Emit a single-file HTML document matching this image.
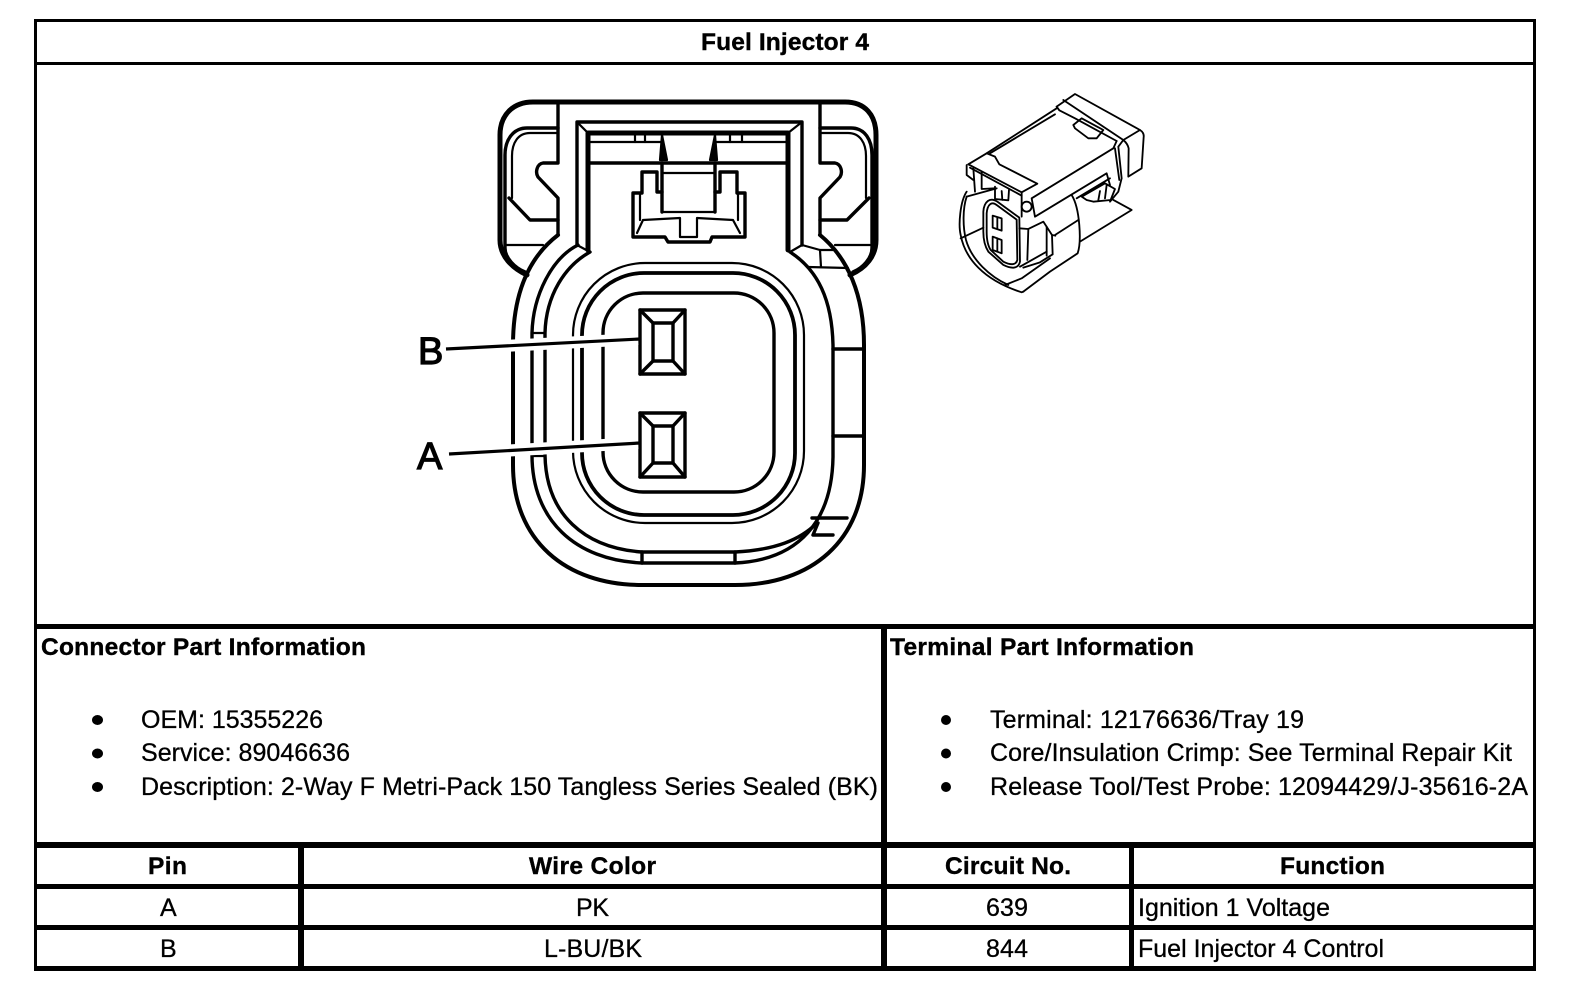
<!DOCTYPE html>
<html><head><meta charset="utf-8"><style>
html,body{margin:0;padding:0;background:#fff}
svg{display:block}
text{font-family:"Liberation Sans",Arial,sans-serif;fill:#000;stroke:#000;stroke-width:.3;font-size:25px}
.b{font-weight:bold;font-size:24.5px;stroke-width:.4}
.k{fill:none;stroke:#000;stroke-width:3.4;stroke-linejoin:round;stroke-linecap:round}
.t{stroke-width:5}
.n{stroke-width:2.2}
.s{fill:none;stroke:#000;stroke-width:5.5;stroke-linejoin:round;stroke-linecap:round}
</style></head><body>
<svg width="1584" height="990" viewBox="0 0 1584 990" xmlns="http://www.w3.org/2000/svg">
<rect width="1584" height="990" fill="#fff"/>
<!-- table frame -->
<g fill="#000">
<rect x="34" y="19" width="1502" height="3"/>
<rect x="34" y="62" width="1502" height="3"/>
<rect x="34" y="624" width="1502" height="5"/>
<rect x="34" y="842" width="1502" height="6"/>
<rect x="34" y="884" width="1502" height="5"/>
<rect x="34" y="925" width="1502" height="5"/>
<rect x="34" y="966" width="1502" height="5"/>
<rect x="34" y="19" width="3" height="952"/>
<rect x="1533" y="19" width="3" height="952"/>
<rect x="298" y="842" width="6" height="129"/>
<rect x="881" y="624" width="6" height="347"/>
<rect x="1129" y="842" width="5" height="129"/>
</g>
<!-- text -->
<text class="b" x="701" y="50" textLength="168" lengthAdjust="spacing">Fuel Injector 4</text>
<text class="b" x="41" y="655" textLength="325" lengthAdjust="spacing">Connector Part Information</text>
<text class="b" x="890" y="655" textLength="304" lengthAdjust="spacing">Terminal Part Information</text>
<text x="141" y="728" textLength="182" lengthAdjust="spacing">OEM: 15355226</text>
<text x="141" y="761" textLength="209" lengthAdjust="spacing">Service: 89046636</text>
<text x="141" y="795" textLength="737" lengthAdjust="spacing">Description: 2-Way F Metri-Pack 150 Tangless Series Sealed (BK)</text>
<text x="990" y="728" textLength="314" lengthAdjust="spacing">Terminal: 12176636/Tray 19</text>
<text x="990" y="761" textLength="522" lengthAdjust="spacing">Core/Insulation Crimp: See Terminal Repair Kit</text>
<text x="990" y="795" textLength="538" lengthAdjust="spacing">Release Tool/Test Probe: 12094429/J-35616-2A</text>
<g fill="#000">
<ellipse cx="97.5" cy="720" rx="5.5" ry="5"/><ellipse cx="97.5" cy="753.5" rx="5.5" ry="5"/><ellipse cx="97.5" cy="787" rx="5.5" ry="5"/>
<ellipse cx="946" cy="720" rx="5" ry="5"/><ellipse cx="946" cy="753.5" rx="5" ry="5"/><ellipse cx="946" cy="787" rx="5" ry="5"/>
</g>
<text class="b" x="148" y="874" textLength="39" lengthAdjust="spacing">Pin</text>
<text class="b" x="529" y="874" textLength="127" lengthAdjust="spacing">Wire Color</text>
<text class="b" x="945" y="874" textLength="126" lengthAdjust="spacing">Circuit No.</text>
<text class="b" x="1280" y="874" textLength="105" lengthAdjust="spacing">Function</text>
<text x="160" y="916" textLength="17" lengthAdjust="spacing">A</text>
<text x="160" y="957" textLength="16" lengthAdjust="spacing">B</text>
<text x="576" y="916" textLength="33" lengthAdjust="spacing">PK</text>
<text x="544" y="957" textLength="98" lengthAdjust="spacing">L-BU/BK</text>
<text x="986" y="916" textLength="42" lengthAdjust="spacing">639</text>
<text x="986" y="957" textLength="42" lengthAdjust="spacing">844</text>
<text x="1138" y="916" textLength="192" lengthAdjust="spacing">Ignition 1 Voltage</text>
<text x="1138" y="957" textLength="246" lengthAdjust="spacing">Fuel Injector 4 Control</text>

<!-- main connector -->
<g class="k">
<!-- flange -->
<path class="k t" d="M527 275 C512 268 500 256 500 240 L500 135 C500 115 513 102 533 102 L845 102 C865 102 876 115 876 135 L876 240 C876 256 866 268 850 275"/>
<path class="k" d="M558 128 L527 128 C513 128 505 140 505 155 L505 248 C505 258 515 268 525 272"/>
<path class="k n" d="M558 133 L530 133 C518 133 512 143 512 156 L512 198"/>
<path class="k" d="M509 198 L530 220 L558 220"/>
<path class="k n" d="M505 245 L543 245"/>
<path class="k" d="M820 128 L851 128 C865 128 872 140 872 155 L872 248 C872 258 863 268 853 272"/>
<path class="k n" d="M820 133 L848 133 C860 133 866 143 866 156 L866 198"/>
<path class="k" d="M869 198 L847 220 L820 220"/>
<path class="k n" d="M835 245 L870 245"/>
<!-- notch / body top -->
<path d="M558 103 L558 163 L543 163 C537 164 535 172 538 177 L558 198 L558 235"/>
<path d="M820 103 L820 163 L835 163 C841 164 843 172 840 177 L820 198 L820 235"/>
<!-- outer body -->
<path class="k" style="stroke-width:4" d="M558 235 C528 258 513 295 513 345 L513 465 C513 540 565 585 642 585 L735 585 C812 585 864 540 864 465 L864 345 C864 295 848 258 820 235"/>
<!-- inner window -->
<path d="M577 245 L577 122 L802 122 L802 245"/>
<path class="k t" d="M588 250 L588 133 L788 133 L788 250"/>
<path class="k n" d="M577 122 L588 133 M802 122 L788 133 M577 245 L590 252 M802 245 L790 252"/>
<!-- shoulder curves left -->
<path d="M578 245 C552 258 533 295 532 333 L532 455 C532 520 575 560 642 563"/>
<path d="M590 252 C565 266 546 295 545 333 L545 455 C546 515 585 548 642 552"/>
<path class="k n" d="M532 333 L545 333 M532 456 L545 456"/>
<!-- shoulder curves right -->
<path d="M790 252 C818 270 832 300 833 345 L833 457 C832 520 800 560 735 563"/>
<path d="M735 552 C775 550 800 540 817 523"/>
<path d="M642 552 L735 552 M642 563 L735 563 M642 552 L642 563 M735 552 L735 563"/>
<path class="k n" d="M802 245 L820 250 L833 250 M808 267 L848 268 M820 250 L821 267"/>
<path d="M833 349 L863 349 M833 436 L863 436"/>
<path d="M812 518 L847 518 M813 535 L833 535 M818 523 L813 535"/>
<!-- seal rings -->
<rect class="k n" x="573" y="263" width="231" height="260" rx="72" ry="72"/>
<rect class="k" style="stroke-width:3.8" x="582" y="273" width="213" height="242" rx="62" ry="62"/>
<rect class="k" x="603" y="293" width="171" height="199" rx="40" ry="40"/>
<!-- latch -->
<path class="k n" d="M588 142 L662 142 M717 142 L788 142"/>
<path d="M588 163 L788 163"/>
<path class="k n" d="M635 133 L635 142 M645 133 L645 142 M730 133 L730 142 M742 133 L742 142"/>
<path class="k n" style="fill:#000" d="M662 135 L667 160 L660 160 Z M715 135 L710 160 L717 160 Z"/>
<path d="M662 163 L662 212 M715 163 L715 212"/>
<path class="k n" d="M662 173 L715 173 M662 212 L715 212"/>
<path d="M662 192 L657 192 L657 172 L642 172 L642 193 L633 193 L633 237 L665 237 L668 242 L710 242 L712 237 L745 237 L745 193 L737 193 L737 172 L720 172 L720 192 L715 192"/>
<path class="k n" d="M637 233 L643 220 L680 218 L680 237 L697 237 L697 218 L733 220 L740 233 M640 193 L640 220 M738 193 L738 220"/>
<!-- terminals -->
<g>
<rect x="640" y="310" width="45" height="64" fill="#fff"/>
<rect x="653" y="323" width="20" height="38"/>
<path d="M640 310 L653 323 M685 310 L673 323 M640 374 L653 361 M685 374 L673 361"/>
<rect x="640" y="413" width="45" height="64" fill="#fff"/>
<rect x="653" y="426" width="20" height="37"/>
<path d="M640 413 L653 426 M685 413 L673 426 M640 477 L653 463 M685 477 L673 463"/>
</g>
</g>
<!-- leaders -->
<path d="M446 349 L638 339" stroke="#fff" stroke-width="12" fill="none"/>
<path d="M449 454 L638 443" stroke="#fff" stroke-width="12" fill="none"/>
<path d="M446 349 L640 339" stroke="#000" stroke-width="3.2" fill="none"/>
<path d="M449 454 L640 443" stroke="#000" stroke-width="3.2" fill="none"/>
<text x="418" y="364" style="font-size:38px;stroke-width:1.2" textLength="26" lengthAdjust="spacing">B</text>
<text x="417" y="469" style="font-size:38px;stroke-width:1.2" textLength="28" lengthAdjust="spacing">A</text>

<!-- small connector -->
<g transform="translate(940 85) scale(.3333)">
<!-- rear cap -->
<path class="s" d="M350 65 L405 27 L600 135 Q613 143 611 157 L605 250 L565 275 L566 190 Q563 176 550 165 L600 135"/>
<path class="s" d="M370 45 L550 165"/>
<path class="s" d="M350 65 L358 76 L405 100 L530 168"/>
<path class="s" d="M400 120 L425 100 L490 135 L470 160 L445 160 L405 130 Z"/>
<!-- top deck -->
<path class="s" d="M350 70 L140 205 L85 238"/>
<path class="s" d="M345 88 L150 205"/>
<path class="s" d="M140 205 L165 215 L178 238 L280 290 L292 296 L245 322 L85 238"/>
<path class="s" d="M90 248 L245 332"/>
<path class="s" d="M80 240 L80 270 L100 285 M100 250 L105 320 M125 262 L125 312 L165 310"/>
<path class="s" d="M165 305 L165 342 L205 346 L207 315 M185 318 L187 345 M245 322 L245 395"/>
<!-- right side -->
<path class="s" d="M530 168 L520 190 M550 165 L535 185 L545 280 L535 320 L510 350"/>
<path class="s" d="M520 190 L275 340 L285 395 L500 265 L510 300 M525 190 L538 285"/>
<circle class="s" cx="260" cy="365" r="15"/>
<!-- collar -->
<path class="s" d="M395 330 C420 370 425 470 413 505 L330 560 L250 620"/>
<path class="s" d="M345 450 L415 405 M420 470 L575 375 L520 345"/>
<path class="s" d="M410 340 L510 280 M425 335 L495 295 L525 312 L512 345 L460 350 L440 345 Z M480 318 L475 346 M500 300 L495 340"/>
<!-- front shell -->
<path class="s" d="M80 320 C60 350 55 420 62 450 C75 520 130 585 245 622 L250 620"/>
<path class="s" d="M80 335 C68 370 68 425 78 465 C95 525 150 575 205 600"/>
<path class="s" d="M62 460 L130 428 M80 335 L170 310 M195 600 L245 580 L330 520"/>
<!-- face -->
<path class="s" d="M130 380 C132 350 150 335 172 350 L238 398 L240 530 C235 552 215 552 190 540 L145 500 C132 480 130 460 130 440 Z"/>
<path class="s" d="M140 385 C142 358 155 348 170 360 L230 404 L232 525 C228 542 210 540 190 530 L152 495 C142 480 140 460 140 440 Z"/>
<!-- nose -->
<path class="s" d="M238 430 L265 432 L310 410 L336 450 L338 508 L300 532 L250 548"/>
<path class="s" d="M265 432 L262 525 M320 425 L320 512 M336 450 L346 452"/>
<path class="s" d="M240 545 L320 500"/>
<!-- terminals -->
<path class="s" d="M158 392 L185 400 L185 437 L158 428 Z M172 396 L172 432"/>
<path class="s" d="M158 455 L185 465 L185 505 L158 495 Z M172 460 L172 500"/>
</g>
</svg>
</body></html>
